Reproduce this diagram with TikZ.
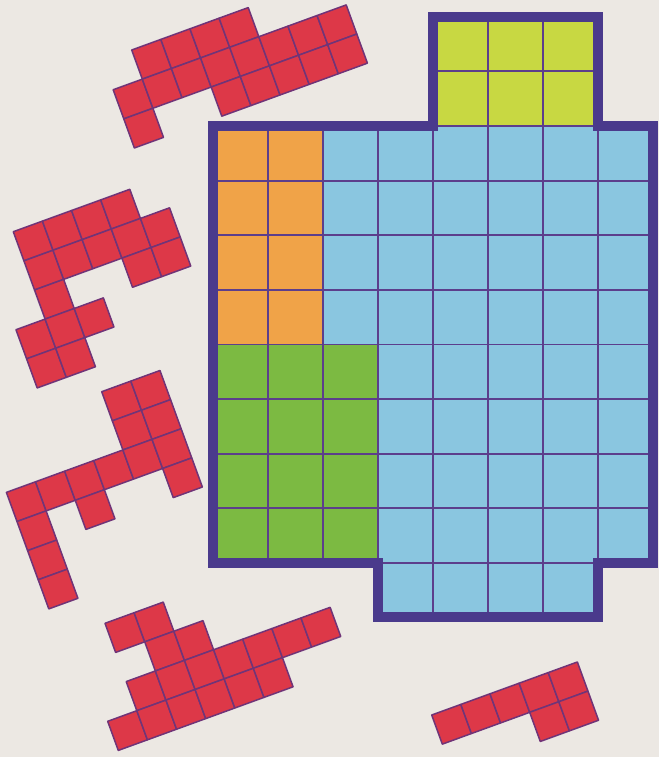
\documentclass[tikz,border=0pt]{standalone}
\definecolor{paper}{RGB}{236,232,227}
\definecolor{redc}{RGB}{221,56,72}
\definecolor{redline}{RGB}{112,52,120}
\definecolor{bluec}{RGB}{138,198,224}
\definecolor{orangec}{RGB}{240,163,72}
\definecolor{greenc}{RGB}{124,186,66}
\definecolor{ygreenc}{RGB}{200,216,66}
\definecolor{borderc}{RGB}{74,58,140}
\definecolor{gridc}{RGB}{92,62,140}
\tikzset{
  redcell/.style={fill=redc, draw=redline, line width=1.5pt, line join=round},
  gridl/.style={draw=gridc, line width=1.8pt},
  boardedge/.style={draw=borderc, line width=10pt, line join=miter}
}
\newcommand\polypiece[3]{%
  \begin{scope}[shift={#1}, rotate=#2, x=31pt, y=-31pt]
    \foreach \u/\v in {#3} \filldraw[redcell] (\u,\v) rectangle ++(1,1);
  \end{scope}}
\begin{document}
\begin{tikzpicture}[x=1pt,y=-1pt]
\fill[paper] (0,0) rectangle (659,757);
\useasboundingbox (0,0) rectangle (659,757);
% board
\begin{scope}[shift={(213,126)}, x=55pt, y=-54.6pt]
  \fill[ygreenc] (4,-2) rectangle (7,0);
  \fill[orangec] (0,0) rectangle (2,4);
  \fill[greenc] (0,4) rectangle (3,8);
  \fill[bluec] (2,0) rectangle (8,4);
  \fill[bluec] (3,4) rectangle (8,8);
  \fill[bluec] (3,8) rectangle (7,9);
  \begin{scope}
    \clip (0,0) -- (4,0) -- (4,-2) -- (7,-2) -- (7,0) -- (8,0) -- (8,8) -- (7,8) -- (7,9) -- (3,9) -- (3,8) -- (0,8) -- cycle;
    \foreach \i in {1,...,7} \draw[gridl] (\i,-2) -- (\i,9);
    \foreach \j in {-1,...,8} \draw[gridl] (0,\j) -- (8,\j);
  \end{scope}
  \draw[boardedge] (0,0) -- (4,0) -- (4,-2) -- (7,-2) -- (7,0) -- (8,0) -- (8,8) -- (7,8) -- (7,9) -- (3,9) -- (3,8) -- (0,8) -- cycle;
\end{scope}
% red pieces
\polypiece{(131.7,50)}{20}{0/0,1/0,2/0,3/0,-1/1,0/1,1/1,2/1,3/1,4/1,5/1,6/1,-1/2,2/2,3/2,4/2,5/2,6/2}
\polypiece{(13.3,231.7)}{20}{0/0,1/0,2/0,3/0,0/1,1/1,2/1,3/1,4/1,0/2,3/2,4/2,-1/3,0/3,1/3,-1/4,0/4}
\polypiece{(101.7,391.7)}{20}{0/0,1/0,0/1,1/1,-4/2,-3/2,-2/2,-1/2,0/2,1/2,-4/3,-2/3,1/3,-4/4,-4/5}
\polypiece{(105,623.3)}{20}{0/0,1/0,1/1,2/1,0/2,1/2,2/2,3/2,4/2,5/2,6/2,-1/3,0/3,1/3,2/3,3/3,4/3}
\polypiece{(431.7,715)}{20}{0/0,1/0,2/0,3/0,4/0,3/1,4/1}
\end{tikzpicture}
\end{document}
